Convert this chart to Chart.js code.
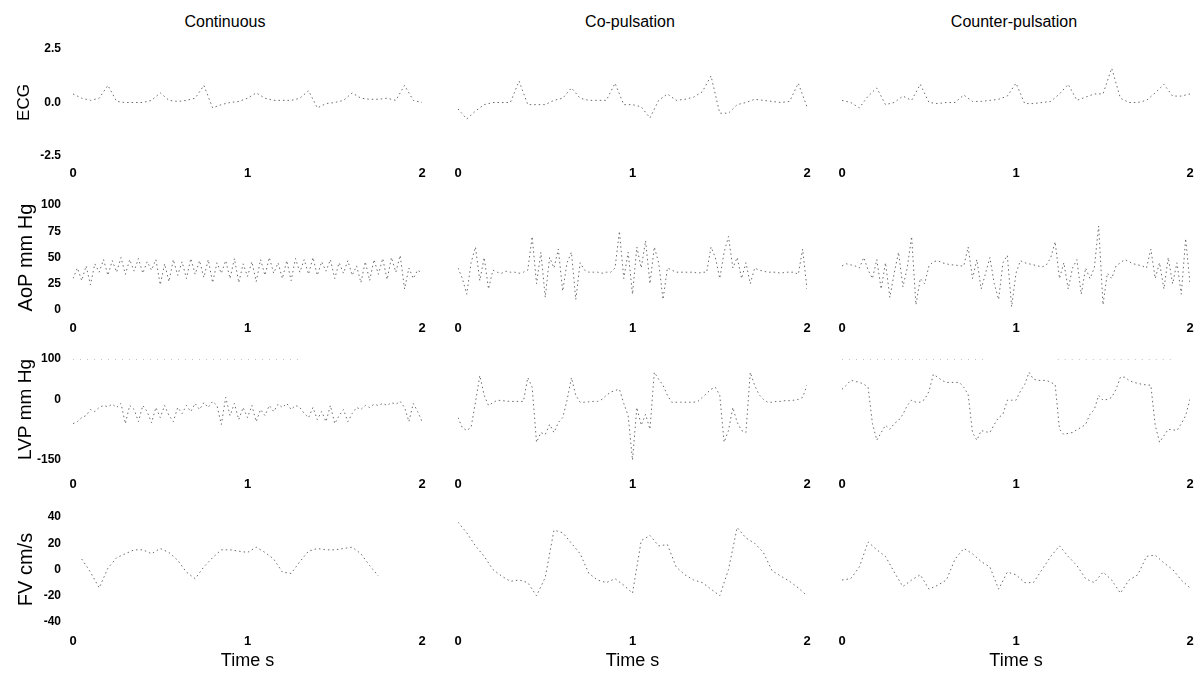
<!DOCTYPE html>
<html>
<head>
<meta charset="utf-8">
<script src="https://cdn.jsdelivr.net/npm/chart.js@4.4.0/dist/chart.umd.min.js"></script>
<style>
  html, body { margin: 0; padding: 0; background: #fff; }
  body { width: 1199px; height: 673px; position: relative; overflow: hidden;
         font-family: 'Liberation Sans', Arial, sans-serif; }
  canvas { position: absolute; }
  .mode { position: absolute; top: 12px; width: 240px; margin-left: -120px; text-align: center;
          font-size: 16px; line-height: 20px; color: #000; }
</style>
</head>
<body>
<script>
// column headings and row labels
const modes = ["Continuous", "Co-pulsation", "Counter-pulsation"];
const rowLabels = ["ECG", "AoP mm Hg", "LVP mm Hg", "FV cm/s"];

// tick labels
const timeTicks = [0, 1, 2];
const ecgTicks = [-2.5, 0, 2.5];
const aopTicks = [0, 25, 50, 75, 100];
const lvpTicks = [-150, 0, 100];
const fvTicks = [-40, -20, 0, 20, 40];

// sample times (s)
const timeCoarse = [0, 0.05, 0.1, 0.15, 0.2, 0.25, 0.3, 0.35, 0.4, 0.45,
  0.5, 0.55, 0.6, 0.65, 0.7, 0.75, 0.8, 0.85, 0.9, 0.95,
  1, 1.05, 1.1, 1.15, 1.2, 1.25, 1.3, 1.35, 1.4, 1.45,
  1.5, 1.55, 1.6, 1.65, 1.7, 1.75, 1.8, 1.85, 1.9, 1.95, 2];
const timeFine = [0, 0.025, 0.05, 0.075, 0.1, 0.125, 0.15, 0.175, 0.2, 0.225,
  0.25, 0.275, 0.3, 0.325, 0.35, 0.375, 0.4, 0.425, 0.45, 0.475,
  0.5, 0.525, 0.55, 0.575, 0.6, 0.625, 0.65, 0.675, 0.7, 0.725,
  0.75, 0.775, 0.8, 0.825, 0.85, 0.875, 0.9, 0.925, 0.95, 0.975,
  1, 1.025, 1.05, 1.075, 1.1, 1.125, 1.15, 1.175, 1.2, 1.225,
  1.25, 1.275, 1.3, 1.325, 1.35, 1.375, 1.4, 1.425, 1.45, 1.475,
  1.5, 1.525, 1.55, 1.575, 1.6, 1.625, 1.65, 1.675, 1.7, 1.725,
  1.75, 1.775, 1.8, 1.825, 1.85, 1.875, 1.9, 1.925, 1.95, 1.975, 2];

// ECG (coarse times)
const ecgCont = [0.4, 0.2, 0.1, 0.2, 0.8, 0.05, 0.0, 0.0, 0.0, 0.1,
  0.45, 0.1, 0.05, 0.1, 0.2, 0.8, -0.25, -0.1, 0.0, 0.05,
  0.2, 0.45, 0.2, 0.1, 0.1, 0.1, 0.2, 0.55, -0.25, -0.05,
  0.0, 0.1, 0.45, 0.2, 0.15, 0.15, 0.2, 0.1, 0.8, 0.1, 0.0];
const ecgCo = [-0.3, -0.77, -0.4, -0.1, 0.0, 0.0, 0.0, 1.0, -0.1, -0.1,
  -0.1, 0.1, 0.2, 0.68, 0.2, 0.1, 0.1, 0.1, 0.9, -0.1,
  -0.1, -0.2, -0.72, 0.1, 0.4, 0.1, 0.15, 0.25, 0.5, 1.24,
  -0.5, -0.5, -0.1, 0.0, 0.15, 0.1, 0.05, 0.0, 0.05, 0.9, -0.2];
const ecgCounter = [0.1, 0.0, -0.25, 0.3, 0.68, -0.1, 0.0, 0.3, 0.1, 0.85,
  0.0, -0.05, 0.0, 0.0, 0.35, 0.05, 0.05, 0.1, 0.15, 0.3,
  0.9, -0.05, -0.05, 0.0, 0.05, 0.4, 0.85, 0.1, 0.25, 0.4,
  0.4, 1.6, 0.2, 0.0, 0.0, 0.1, 0.45, 0.85, 0.3, 0.3, 0.4];

// AoP (fine times)
const aopCont = [30, 40, 28, 42, 24, 44, 36, 48, 33, 47,
  36, 50, 34, 48, 37, 49, 35, 46, 38, 48,
  24, 44, 27, 48, 33, 46, 30, 49, 34, 47,
  31, 48, 26, 45, 35, 47, 30, 49, 26, 44,
  32, 46, 27, 48, 33, 50, 35, 45, 30, 47,
  28, 49, 36, 48, 34, 50, 33, 46, 37, 48,
  30, 45, 35, 47, 33, 42, 26, 46, 28, 48,
  34, 49, 29, 50, 36, 52, 20, 40, 30, 38, 35];
const aopCo = [40, 30, 15, 45, 60, 28, 50, 20, 38, 36,
  35, 37, 36, 36, 35, 36, 38, 70, 25, 55,
  12, 50, 40, 58, 18, 45, 55, 10, 45, 38,
  36, 36, 36, 35, 36, 36, 40, 75, 30, 55,
  15, 60, 40, 66, 25, 60, 45, 10, 40, 38,
  36, 36, 36, 36, 36, 35, 36, 36, 60, 50,
  30, 55, 70, 40, 50, 30, 45, 25, 40, 38,
  37, 36, 36, 36, 35, 36, 36, 36, 34, 58, 20];
const aopCounter = [42, 44, 43, 42, 40, 50, 38, 30, 48, 20,
  45, 12, 35, 55, 22, 40, 70, 5, 30, 25,
  42, 46, 47, 45, 44, 43, 43, 42, 42, 60,
  30, 48, 20, 35, 50, 25, 10, 45, 52, 3,
  35, 47, 45, 44, 43, 42, 41, 43, 50, 65,
  30, 45, 20, 40, 48, 15, 40, 30, 40, 80,
  5, 35, 30, 42, 45, 48, 46, 44, 43, 42,
  40, 58, 30, 45, 20, 50, 25, 45, 15, 68, 25];

// LVP (fine times)
const lvpCont = [-60, -55, -45, -40, -25, -30, -20, -15, -18, -12,
  -20, -10, -60, -15, -25, -55, -15, -30, -58, -20,
  -45, -15, -40, -55, -20, -35, -15, -30, -10, -25,
  -8, -20, -5, -15, -62, 5, -40, -10, -50, -20,
  -45, -15, -55, -25, -40, -15, -30, -12, -20, -10,
  -25, -15, -20, -35, -45, -20, -50, -30, -55, -15,
  -60, -40, -25, -55, -35, -20, -25, -15, -20, -12,
  -15, -10, -15, -8, -12, -5, -20, -55, -10, -30, -55];
const lvpCo = [-45, -70, -77, -69, -7, 59, 10, -15, -8, -2,
  -3, -4, -5, -5, -5, -5, 54, 30, -106, -82,
  -87, -62, -82, -57, -45, -2, 54, 10, -7, -7,
  -6, -5, -5, 0, 10, 18, 22, 25, -10, -40,
  -150, -20, -64, -37, -74, 67, 50, 35, 10, -7,
  -7, -7, -7, -7, -7, -5, 5, 15, 25, 30,
  10, -106, -77, -20, -57, -77, -82, 67, 35, 12,
  0, -7, -7, -5, -5, -3, -3, -2, 0, 5, 35];
const lvpCounter = [25, 35, 47, 45, 42, 38, 30, -60, -101, -82,
  -64, -74, -60, -52, -37, -15, -2, -7, -7, 0,
  20, 62, 55, 47, 42, 42, 42, 42, 30, 12,
  -82, -101, -77, -80, -82, -62, -45, -37, -2, -2,
  -2, 20, 37, 67, 50, 47, 47, 47, 42, 37,
  -74, -87, -84, -82, -75, -69, -62, -37, -25, 10,
  -2, 0, 5, 25, 55, 55, 47, 42, 40, 37,
  36, 35, -64, -106, -90, -74, -75, -77, -60, -40, 0];
// time spans where the LVP trace sits at the 100 mm Hg ceiling
const lvpCeiling = 100;
const ceilingCont = [[0, 1.3]];
const ceilingCounter = [[0, 0.81], [1.24, 1.91]];

// FV (coarse times)
const fvCont = [null, 8, -2, -14, 1, 9, 12, 15, 15, 12,
  16, 13, 7, -2, -7, 2, 9, 15, 15, 14,
  13, 17, 13, 8, -2, -3, 6, 14, 16, 15,
  15, 16, 17, 12, 3, -5, null, null, null, null, null];
const fvCo = [36, 28, 18, 10, 0, -5, -9, -8, -10, -20,
  -6, 30, 28, 20, 12, -3, -8, -10, -7, -12,
  -18, 22, 26, 18, 19, 2, -4, -8, -10, -15,
  -20, 0, 32, 24, 20, 13, -1, -5, -9, -14, -20];
const fvCounter = [-8, -7, 2, 21, 15, 10, -2, -13, -8, -4,
  -15, -12, -8, 8, 16, 12, 6, 2, -15, -2,
  -4, -10, -10, 0, 10, 18, 10, 3, -7, -10,
  -2, -8, -18, -8, -4, 10, 11, 5, 0, -8, -14];

const rows = [
  { time: timeCoarse, series: [ecgCont, ecgCo, ecgCounter], min: -2.5, max: 2.5, ticks: ecgTicks, fmt: v => v.toFixed(1) },
  { time: timeFine, series: [aopCont, aopCo, aopCounter], min: 0, max: 100, ticks: aopTicks, fmt: v => String(v) },
  { time: timeFine, series: [lvpCont, lvpCo, lvpCounter], min: -150, max: 100, ticks: lvpTicks, fmt: v => String(v),
    ceiling: [ceilingCont, [], ceilingCounter] },
  { time: timeCoarse, series: [fvCont, fvCo, fvCounter], min: -40, max: 40, ticks: fvTicks, fmt: v => String(v) }
];

// layout of the plot areas (px)
const colLeft = [73, 458, 842];
const colRight = [422, 807, 1190];
const titleCenter = [225, 630, 1014];
const rowTop = [49, 205, 359, 517];
const rowBottom = [156, 310, 460, 622];
const axisHeight = [27, 26, 31, 51];
const tickPad = [10, 11, 17, 12];
const labelSize = [17, 20, 19, 20];

Chart.defaults.font.family = "'Liberation Sans', Arial, sans-serif";
Chart.defaults.color = '#000';

const traceStyle = { borderColor: '#6a6a6a', borderWidth: 1, borderDash: [1.5, 3], pointRadius: 0, tension: 0, spanGaps: false };

modes.forEach((mode, c) => {
  const head = document.createElement('div');
  head.className = 'mode';
  head.style.left = titleCenter[c] + 'px';
  head.textContent = mode;
  document.body.appendChild(head);
});

rows.forEach((row, r) => {
  modes.forEach((mode, c) => {
    const padSide = 28;
    const padLeft = c === 0 ? 0 : padSide;
    const padTop = 22;
    const left = c === 0 ? 0 : colLeft[c] - padSide;
    const top = rowTop[r] - padTop;
    const width = colRight[c] + padSide - left;
    const height = rowBottom[r] + axisHeight[r] - top;

    const canvas = document.createElement('canvas');
    canvas.width = width;
    canvas.height = height;
    canvas.style.left = left + 'px';
    canvas.style.top = top + 'px';
    document.body.appendChild(canvas);

    const datasets = [Object.assign({
      data: row.time.map((t, i) => ({ x: t, y: row.series[c][i] }))
    }, traceStyle)];
    if (row.ceiling) {
      row.ceiling[c].forEach(span => {
        datasets.push({
          data: span.map(t => ({ x: t, y: lvpCeiling })),
          borderColor: '#888', borderWidth: 1, borderDash: [1, 6], pointRadius: 0
        });
      });
    }

    new Chart(canvas, {
      type: 'line',
      data: { datasets: datasets },
      options: {
        responsive: false,
        animation: false,
        layout: { padding: { left: padLeft, right: padSide, top: padTop, bottom: 0 } },
        plugins: {
          legend: { display: false },
          tooltip: { enabled: false }
        },
        scales: {
          x: {
            type: 'linear',
            min: 0,
            max: 2,
            grid: { display: false, drawTicks: false },
            border: { display: false },
            afterBuildTicks: s => { s.ticks = timeTicks.map(v => ({ value: v })); },
            afterFit: s => { s.height = axisHeight[r]; },
            ticks: { padding: tickPad[r], font: { size: 13, weight: 'bold' }, maxRotation: 0 },
            title: {
              display: r === 3,
              text: 'Time s',
              font: { size: 18 },
              padding: { top: 0, bottom: 1 }
            }
          },
          y: {
            display: c === 0,
            min: row.min,
            max: row.max,
            grid: { display: false, drawTicks: false },
            border: { display: false },
            afterBuildTicks: s => { s.ticks = row.ticks.map(v => ({ value: v })); },
            afterFit: s => { if (c === 0) s.width = colLeft[0]; },
            ticks: { padding: 12, font: { size: 12, weight: 'bold' }, callback: v => row.fmt(v) },
            title: {
              display: true,
              text: rowLabels[r],
              font: { size: labelSize[r] },
              padding: { top: 14, bottom: 0 }
            }
          }
        }
      }
    });
  });
});
</script>
</body>
</html>
